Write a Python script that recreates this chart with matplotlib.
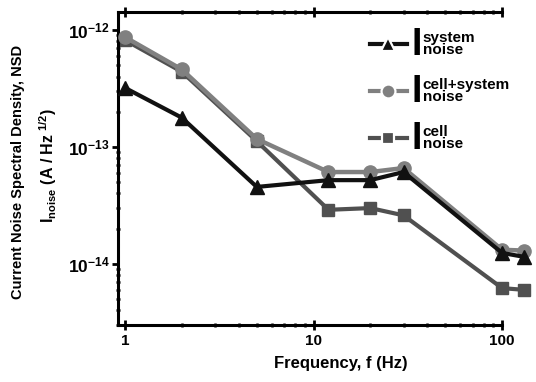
import matplotlib
matplotlib.use('Agg')
import matplotlib.pyplot as plt
from matplotlib.lines import Line2D
from matplotlib.ticker import FixedLocator, FixedFormatter, LogLocator, NullFormatter

plt.rcParams['font.family'] = ['Liberation Sans', 'DejaVu Sans']
plt.rcParams['font.weight'] = 'bold'
plt.rcParams['mathtext.fontset'] = 'custom'
plt.rcParams['mathtext.rm'] = 'Liberation Sans:bold'
plt.rcParams['mathtext.bf'] = 'Liberation Sans:bold'
plt.rcParams['mathtext.it'] = 'Liberation Sans:bold'

# frequencies (Hz) and noise spectral density (A/Hz^1/2)
freq = [1, 2, 5, 12, 20, 30, 100, 130]
system_noise = [3.2e-13, 1.78e-13, 4.55e-14, 5.2e-14, 5.2e-14, 6.1e-14, 1.24e-14, 1.15e-14]
cell_system_noise = [8.7e-13, 4.6e-13, 1.17e-13, 6.1e-14, 6.1e-14, 6.6e-14, 1.32e-14, 1.3e-14]
cell_noise = [8.2e-13, 4.4e-13, 1.12e-13, 2.9e-14, 3.0e-14, 2.6e-14, 6.2e-15, 6.0e-15]

legend_sup = ['system', 'cell+system', 'cell']
yticks = [1e-14, 1e-13, 1e-12]
ytick_labels = [r'$\mathbf{10^{-14}}$', r'$\mathbf{10^{-13}}$', r'$\mathbf{10^{-12}}$']
xticks = [1, 10, 100]
xtick_labels = ['1', '10', '100']

c_sys = '#111111'
c_cs = '#808080'
c_cell = '#505050'

fig = plt.figure(figsize=(5.36, 3.82), dpi=100)
ax = fig.add_axes([118 / 536, 57 / 382, 420 / 536, 313 / 382])

ax.plot(freq, cell_noise, color=c_cell, lw=3, marker='s', ms=9, zorder=2)
ax.plot(freq, cell_system_noise, color=c_cs, lw=3.2, marker='o', ms=9.5, zorder=3)
ax.plot(freq, system_noise, color=c_sys, lw=3, marker='^', ms=10.5, zorder=4)

ax.set_xscale('log')
ax.set_yscale('log')
ax.set_xlim(0.918, 155)
ax.set_ylim(3.0e-15, 1.426e-12)

ax.xaxis.set_major_locator(FixedLocator(xticks))
ax.xaxis.set_major_formatter(FixedFormatter(xtick_labels))
ax.xaxis.set_minor_locator(LogLocator(base=10, subs=range(2, 10)))
ax.xaxis.set_minor_formatter(NullFormatter())
ax.yaxis.set_major_locator(FixedLocator(yticks))
ax.yaxis.set_major_formatter(FixedFormatter(ytick_labels))
ax.yaxis.set_minor_locator(LogLocator(base=10, subs=range(2, 10)))
ax.yaxis.set_minor_formatter(NullFormatter())

for s in ['left', 'top', 'bottom']:
    ax.spines[s].set_linewidth(2.2)
ax.spines['right'].set_visible(False)
ax.spines['top'].set_bounds(0.918, 100)
ax.spines['bottom'].set_bounds(0.918, 100)

ax.tick_params(axis='x', which='major', direction='inout', length=7, width=2,
               top=True, labelsize=11, pad=3)
ax.tick_params(axis='x', which='minor', direction='inout', length=3.5, width=1.8, top=True)
ax.tick_params(axis='y', which='major', direction='out', length=4, width=2,
               right=True, labelsize=12.5, pad=2)
ax.tick_params(axis='y', which='minor', direction='inout', length=3.5, width=1.8)
for lab in ax.get_xticklabels():
    lab.set_fontweight('bold')

ax.set_xlabel('Frequency, f (Hz)', fontsize=12, fontweight='bold', labelpad=3)
ax.xaxis.set_label_coords(0.53, -0.1)

fig.text(18 / 536, 1 - 172 / 382, 'Current Noise Spectral Density, NSD', rotation=90,
         ha='center', va='center', fontsize=10.5, fontweight='bold')
fig.text(48 / 536, 1 - 166 / 382, r'$\mathbf{I_{noise}}$ (A / Hz$^{\ 1/2}$)', rotation=90,
         ha='center', va='center', fontsize=11.5, fontweight='bold')

# legend handles: solid line, white-edged marker leaves a gap on both sides
handles = [
    Line2D([], [], color=c_sys, lw=3, marker='^', ms=10, mec='white', mew=1.6, mfc=c_sys),
    Line2D([], [], color=c_cs, lw=3, marker='o', ms=10, mec='white', mew=1.6, mfc=c_cs),
    Line2D([], [], color=c_cell, lw=3, marker='s', ms=9, mec='white', mew=1.6, mfc=c_cell),
]
labels = [s + '\nnoise' for s in legend_sup]
leg = ax.legend(handles, labels, loc='upper left', bbox_to_anchor=(370 / 536, 1 - 31 / 382),
                bbox_transform=fig.transFigure, frameon=False, fontsize=11,
                handlelength=2.4, handletextpad=1.05, labelspacing=1.4,
                borderpad=0, borderaxespad=0)
for t in leg.get_texts():
    t.set_linespacing(0.8)
    t.set_fontweight('bold')

# big "I" in front of each legend label, aligned to the label block
fig.canvas.draw()
inv = fig.transFigure.inverted()
for t in leg.get_texts():
    bb = t.get_window_extent()
    x0, y0 = inv.transform((bb.x0 - 1, bb.y0 + 2))
    fig.text(x0, y0, 'I', fontsize=27, fontweight='bold', ha='right', va='baseline')

fig.savefig('out.png', dpi=100)
